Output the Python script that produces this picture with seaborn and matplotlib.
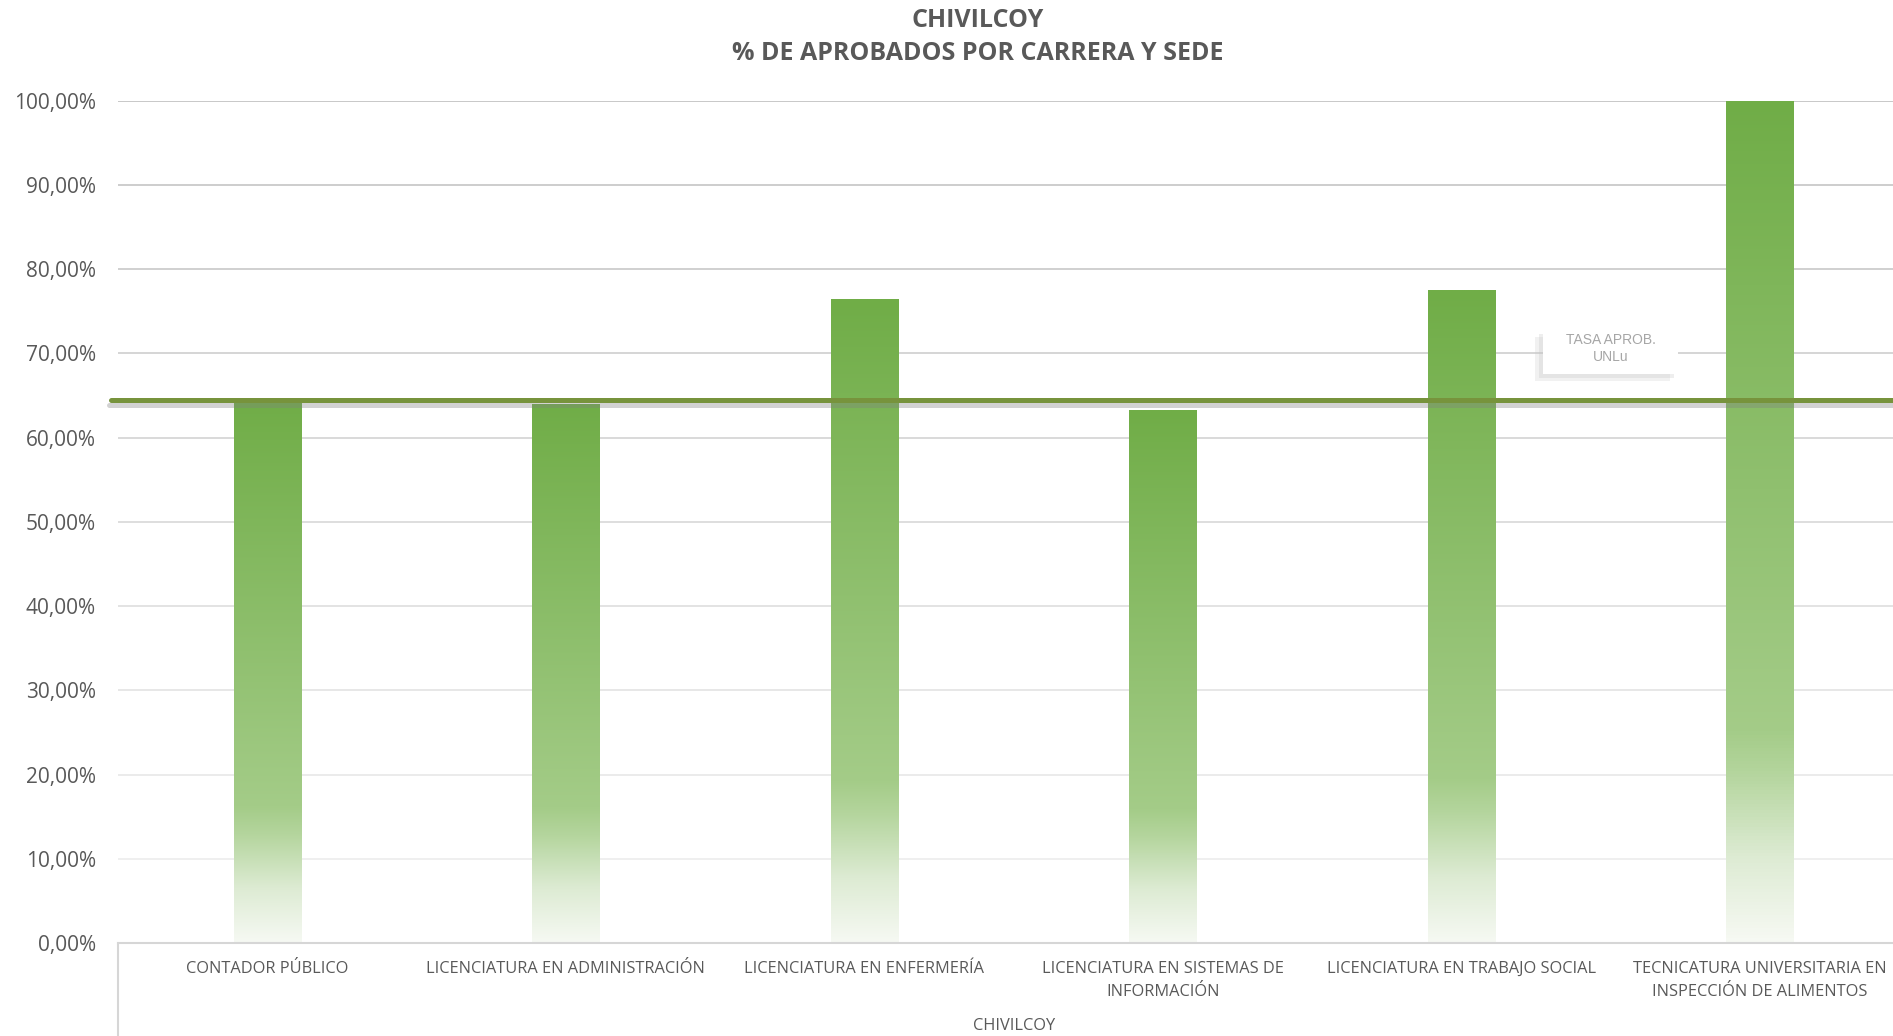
import numpy as np
import pandas as pd
import matplotlib
matplotlib.use("Agg")
import matplotlib.pyplot as plt
import matplotlib.patheffects as pe
from matplotlib.patches import Rectangle
from matplotlib.colors import LinearSegmentedColormap, to_rgb
import seaborn as sns

# --- Datos ---
CARRERAS = [
    "CONTADOR PÚBLICO",
    "LICENCIATURA EN ADMINISTRACIÓN",
    "LICENCIATURA EN ENFERMERÍA",
    "LICENCIATURA EN SISTEMAS DE\nINFORMACIÓN",
    "LICENCIATURA EN TRABAJO SOCIAL",
    "TECNICATURA UNIVERSITARIA EN\nINSPECCIÓN DE ALIMENTOS",
]
APROBADOS = [64.4, 63.9, 76.4, 63.2, 77.5, 100.0]
TASA_UNLU = 64.5
SEDE = "CHIVILCOY"
TITULO = "CHIVILCOY\n% DE APROBADOS POR CARRERA Y SEDE"
Y_TICKS = list(range(0, 101, 10))

# --- Estilo ---
sns.set_theme(style="white")
plt.rcParams["font.family"] = ["Open Sans", "DejaVu Sans"]
GRIS_TEXTO = "#595959"
VERDE = "#70AD47"
LINEA = "#77933C"

df = pd.DataFrame({"carrera": CARRERAS, "aprobados": APROBADOS})

fig = plt.figure(figsize=(18.93, 10.36), dpi=100)
ax = fig.add_axes([118 / 1893, 93 / 1036, (1909 - 118) / 1893, (935.3 - 93) / 1036])

sns.barplot(data=df, x="carrera", y="aprobados", color=VERDE, width=0.226,
            ax=ax, zorder=2)

# degradado vertical dentro de cada barra
cmap = LinearSegmentedColormap.from_list(
    "verde_grad",
    [(0.0, "#F6F9F3"), (0.10, "#DDEBD3"), (0.20, "#B4D59D"),
     (0.25, "#A4CC88"), (1.0, VERDE)])
grad = np.linspace(0, 1, 256).reshape(-1, 1)
for p in ax.patches:
    x0, w, h = p.get_x(), p.get_width(), p.get_height()
    ax.imshow(grad, extent=[x0, x0 + w, 0, h], origin="lower", cmap=cmap,
              aspect="auto", zorder=2, interpolation="bilinear")
    p.set_visible(False)

ax.set_xlim(-0.5, len(CARRERAS) - 0.5)
ax.set_ylim(0, 100)

# ejes y grilla
ax.set_yticks(Y_TICKS)
ax.set_yticklabels([f"{v:.2f}".replace(".", ",") + "%" for v in Y_TICKS])
ax.tick_params(axis="y", length=0, pad=16, labelsize=15, labelcolor=GRIS_TEXTO)
ax.tick_params(axis="x", length=0, pad=13, labelsize=11.8, labelcolor=GRIS_TEXTO)
for lbl in ax.get_xticklabels():
    lbl.set_linespacing(1.55)
ax.set_xlabel("")
ax.set_ylabel("")
ax.yaxis.grid(True)
ax.set_axisbelow(True)
oscuro, claro = np.array(to_rgb("#C4C4C4")), np.array(to_rgb("#EEEEEE"))
for v, gl in zip(Y_TICKS, ax.get_ygridlines()):
    t = (100 - v) / 90
    gl.set_color(oscuro * (1 - t) + claro * t)
    gl.set_linewidth(1.3)
for s in ["top", "right", "left"]:
    ax.spines[s].set_visible(False)
ax.spines["bottom"].set_color("#D6D6D6")
ax.spines["bottom"].set_linewidth(1.5)
ax.plot([0, 0], [0, -0.12], transform=ax.transAxes, clip_on=False,
        color="#D6D6D6", lw=1.5)

# tasa de aprobación UNLu
ax.axhline(TASA_UNLU, xmin=-0.004, xmax=1, color=LINEA, lw=3.6, zorder=4,
           clip_on=False,
           path_effects=[pe.SimpleLineShadow(offset=(-1.5, -3.5), shadow_color="#808080",
                                             alpha=0.35), pe.Normal()])
caja = Rectangle((4.5 - 0.226, 70.15 - 2.61), 0.452, 5.22, facecolor="white",
                 edgecolor="none", zorder=5)
caja.set_path_effects([
    pe.SimplePatchShadow(offset=(-6, -5), shadow_rgbFace="#C8C8C8", alpha=0.25),
    pe.SimplePatchShadow(offset=(-3, -3), shadow_rgbFace="#C8C8C8", alpha=0.3),
    pe.Normal()])
ax.add_patch(caja)
ax.text(4.5, 70.6, "TASA APROB.\nUNLu", ha="center", va="center",
        fontsize=10, color="#A6A6A6", family=["Liberation Sans"],
        linespacing=1.3, zorder=6)

# títulos
fig.text(978 / 1893, 1 - 37 / 1036, TITULO, ha="center", va="center",
         fontsize=18, fontweight="bold", color=GRIS_TEXTO, linespacing=1.45)
fig.text(1014 / 1893, 10 / 1036, SEDE, ha="center", va="center",
         fontsize=11.8, color=GRIS_TEXTO)

fig.savefig("out.png", dpi=100)
